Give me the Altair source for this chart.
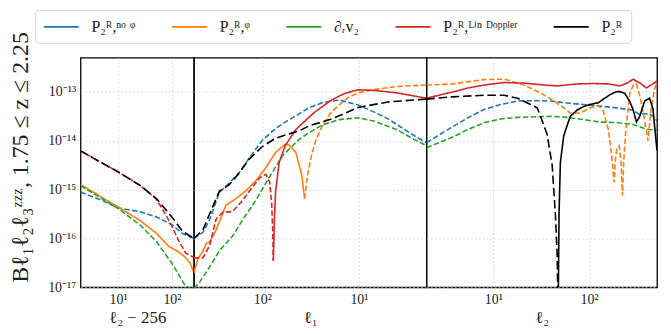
import altair as alt
import pandas as pd

SERIES = ["P₂ᴿ,ⁿᵒ ᵠ", "P₂ᴿ,ᵠ", "∂ᵣv₂", "P₂ᴿ,ᴸⁱⁿ ᴰᵒᵖᵖˡᵉʳ", "P₂ᴿ"]
COLORS = ["#1f77b4", "#ff7f0e", "#2ca02c", "#d62728", "#000000"]
WIDTHS = [1.6, 1.6, 1.6, 1.6, 2.8]

Y_TICKS = [1e-17, 1e-16, 1e-15, 1e-14, 1e-13]
X_TICKS = [10, 100]

# ---------------- panel 1 : x = l2 - 256 ----------------
p1_blue_x = [2, 5, 10, 26, 52, 104, 157, 256]
p1_blue_y = [8.9e-16, 6.0e-16, 4.2e-16, 3.5e-16, 2.75e-16, 1.86e-16, 1.26e-16, 1.0e-16]
p1_orange_x = [2, 10, 26, 52, 88, 130, 170, 215, 256]
p1_orange_y = [1.26e-15, 4.4e-16, 2.3e-16, 1.26e-16, 6.8e-17, 5.4e-17, 4.3e-17, 3.2e-17, 2.0e-17]
p1_green_x = [2, 10, 26, 52, 104, 170, 256]
p1_green_y = [1.2e-15, 4.1e-16, 1.86e-16, 8.5e-17, 2.9e-17, 1.15e-17, 8e-18]
p1_red_x = [2, 10, 26, 52, 91, 137, 181, 256]
p1_red_y = [6.2e-15, 2.3e-15, 1.2e-15, 6.3e-16, 2.2e-16, 8.5e-17, 5.0e-17, 4.1e-17]
p1_black_x = [2, 4, 10, 26, 52, 104, 157, 256]
p1_black_y = [6.2e-15, 4.0e-15, 2.3e-15, 1.2e-15, 6.5e-16, 2.6e-16, 1.4e-16, 1.0e-16]

# ---------------- panel 2 : x = l1 (reversed) ----------------
p2_blue_x = [512, 413, 352, 278, 220, 173, 137, 100, 73, 53, 42, 33, 24, 16, 10.2, 6.85, 5, 4, 2.66, 2]
p2_blue_y = [1.0e-16, 1.32e-16, 2.4e-16, 8.9e-16, 1.35e-15, 2.24e-15, 4.4e-15, 1.02e-14, 1.78e-14, 2.7e-14,
             3.5e-14, 4.7e-14, 6.0e-14, 6.8e-14, 5.4e-14, 3.8e-14, 2.8e-14, 2.1e-14, 1.26e-14, 9.1e-15]
p2_orange_pos_x = [512, 465, 413, 381, 352, 313, 278, 238, 188, 148, 117, 92, 73, 58, 53, 45, 39, 36.5]
p2_orange_pos_y = [1.95e-17, 3.9e-17, 5.4e-17, 7.9e-17, 8.5e-17, 1.26e-16, 2.2e-16, 4.8e-16, 6.5e-16, 9.5e-16,
                   1.51e-15, 2.8e-15, 5.75e-15, 8.5e-15, 8.1e-15, 5.75e-15, 1.95e-15, 6.5e-16]
p2_orange_neg_x = [36.5, 34, 31, 28, 24, 20, 16.3, 13, 10.2, 7, 4, 2]
p2_orange_neg_y = [6.5e-16, 2.0e-15, 5.0e-15, 1.0e-14, 2.0e-14, 3.55e-14, 5.25e-14, 7.6e-14, 9.5e-14, 1.12e-13,
                   1.29e-13, 1.38e-13]
p2_green_x = [512, 447, 352, 278, 203, 160, 117, 85, 62, 42, 33, 24, 16, 10.2, 6.85, 4, 2.66, 2]
p2_green_y = [9.5e-18, 1.26e-17, 2.6e-17, 5.6e-17, 1.12e-16, 2.4e-16, 6.0e-16, 1.78e-15, 4.9e-15, 1.05e-14,
              1.45e-14, 2.1e-14, 2.7e-14, 2.95e-14, 2.5e-14, 1.66e-14, 1.05e-14, 7.9e-15]
p2_red_neg_x = [512, 413, 352, 301, 258, 203, 160, 127, 105, 92, 84, 80, 78, 77]
p2_red_neg_y = [4.0e-17, 4.0e-17, 7.1e-17, 2.5e-16, 3.4e-16, 3.55e-16, 6.0e-16, 1.12e-15, 1.78e-15, 2.05e-15,
                1.41e-15, 5.0e-16, 1.26e-16, 3.5e-17]
p2_red_pos_x = [77, 75, 73, 67, 58, 45, 33, 28, 19, 14, 10.2, 6.85, 4.0, 2]
p2_red_pos_y = [3.5e-17, 2.5e-16, 8.9e-16, 3.6e-15, 7.9e-15, 1.7e-14, 3.0e-14, 4.0e-14, 6.9e-14, 9.3e-14,
                1.1e-13, 1.07e-13, 9.5e-14, 7.4e-14]
p2_black_x = [512, 413, 352, 278, 220, 173, 137, 100, 73, 53, 42, 33, 19, 10.2, 5, 2]
p2_black_y = [1.0e-16, 1.48e-16, 3.16e-16, 9.3e-16, 1.26e-15, 2.2e-15, 4.2e-15, 7.6e-15, 1.12e-14, 1.38e-14,
              1.58e-14, 2.0e-14, 2.8e-14, 4.8e-14, 6.2e-14, 7.1e-14]

# ---------------- panel 3 : x = l2 ----------------
p3_blue_x = [2, 3.64, 5.42, 8.07, 12, 17.9, 26.5, 39.5, 58.7, 87.5, 130, 194, 288, 338, 380, 428, 482, 512]
p3_blue_y = [9.1e-15, 1.86e-14, 2.95e-14, 4.4e-14, 5.5e-14, 6.5e-14, 6.6e-14, 6.5e-14, 5.9e-14, 5.5e-14,
             5.1e-14, 4.7e-14, 4.2e-14, 3.4e-14, 3.6e-14, 3.5e-14, 3.0e-14, 2.5e-14]
p3_orange_x = [2, 3.64, 8.07, 13, 20.9, 31.1, 46.3, 63.6, 80.8, 102, 125, 141, 159, 172, 182, 188, 194, 206,
               215, 223, 230, 242, 266, 290, 312, 340, 370, 400, 412, 440, 480, 512]
p3_orange_y = [1.38e-13, 1.45e-13, 1.78e-13, 1.82e-13, 1.38e-13, 9.5e-14, 5.9e-14, 3.7e-14, 3.7e-14, 4.7e-14,
               5.25e-14, 4.0e-14, 1.7e-14, 5.0e-15, 1.41e-15, 4.0e-15, 6.6e-15, 7.8e-15, 4.0e-15, 7.6e-16,
               4.0e-15, 1.7e-14, 9.5e-14, 1.38e-13, 1.45e-13, 7.9e-14, 3.55e-14, 1.41e-14, 1.0e-14, 4.0e-14,
               1.12e-13, 1.62e-13]
p3_green_x = [2, 3.64, 5.42, 8.07, 12, 17.9, 39.5, 58.7, 87.5, 130, 194, 288, 366, 420, 512]
p3_green_y = [7.2e-15, 1.15e-14, 1.7e-14, 2.35e-14, 2.8e-14, 3.0e-14, 3.16e-14, 3.0e-14, 2.7e-14, 2.4e-14,
              2.35e-14, 2.15e-14, 1.82e-14, 1.7e-14, 1.66e-14]
p3_red_x = [2, 3.64, 5.42, 8.07, 13, 20.9, 33.7, 46.3, 74.6, 111, 160, 210, 250, 288, 340, 396, 450, 512]
p3_red_y = [7.4e-14, 9.8e-14, 1.2e-13, 1.38e-13, 1.55e-13, 1.51e-13, 1.38e-13, 1.32e-13, 1.45e-13, 1.48e-13,
            1.45e-13, 1.32e-13, 1.51e-13, 1.82e-13, 1.51e-13, 1.2e-13, 1.41e-13, 1.66e-13]
p3_black_neg_x = [2, 3.64, 8.07, 13, 17.9, 24.5, 28.7, 31.1, 36.5, 41.1, 44.4, 46.3, 47.5]
p3_black_neg_y = [7.1e-14, 7.9e-14, 8.5e-14, 8.5e-14, 7.4e-14, 5.5e-14, 4.7e-14, 3.16e-14, 1.32e-14, 3.16e-15,
                  3.16e-16, 5.0e-17, 3.16e-18]
p3_black_pos_x = [47.5, 48.5, 50.1, 54.3, 58.7, 63.6, 74.6, 87.5, 102, 125, 141, 165, 186, 206, 236, 266, 288,
                  312, 338, 380, 428, 464, 494, 512]
p3_black_pos_y = [3.16e-18, 3.16e-16, 3.6e-15, 1.26e-14, 2.0e-14, 3.16e-14, 4.2e-14, 5.0e-14, 5.5e-14, 6.0e-14,
                  7.1e-14, 8.7e-14, 9.8e-14, 1.02e-13, 9.3e-14, 6.3e-14, 4.3e-14, 2.4e-14, 3.16e-14, 6.5e-14,
                  7.4e-14, 4.5e-14, 1.26e-14, 6.3e-15]

# (panel, series index, sign, xs, ys) -- drawn in this order
SEGMENTS = [
    (1, 0, "neg", p1_blue_x, p1_blue_y),
    (1, 1, "pos", p1_orange_x, p1_orange_y),
    (1, 2, "neg", p1_green_x, p1_green_y),
    (1, 3, "neg", p1_red_x, p1_red_y),
    (1, 4, "neg", p1_black_x, p1_black_y),
    (2, 0, "neg", p2_blue_x, p2_blue_y),
    (2, 1, "pos", p2_orange_pos_x, p2_orange_pos_y),
    (2, 1, "neg", p2_orange_neg_x, p2_orange_neg_y),
    (2, 2, "neg", p2_green_x, p2_green_y),
    (2, 3, "neg", p2_red_neg_x, p2_red_neg_y),
    (2, 3, "pos", p2_red_pos_x, p2_red_pos_y),
    (2, 4, "neg", p2_black_x, p2_black_y),
    (3, 0, "neg", p3_blue_x, p3_blue_y),
    (3, 1, "neg", p3_orange_x, p3_orange_y),
    (3, 2, "neg", p3_green_x, p3_green_y),
    (3, 3, "pos", p3_red_x, p3_red_y),
    (3, 4, "neg", p3_black_neg_x, p3_black_neg_y),
    (3, 4, "pos", p3_black_pos_x, p3_black_pos_y),
]

rows = []
for seg_id, (panel, si, sign, xs, ys) in enumerate(SEGMENTS):
    if sign == "pos":
        style = "solid"
    else:
        style = "dashed_bold" if si == 4 else "dashed"
    for i, (x, y) in enumerate(zip(xs, ys)):
        rows.append({"panel": panel, "series": SERIES[si], "seg": seg_id, "style": style,
                     "x": x, "y": y, "i": i})
df = pd.DataFrame(rows)

FONT = "Liberation Serif"

y_label_expr = (
    "datum.value < 3e-17 ? '10⁻¹⁷' : datum.value < 3e-16 ? '10⁻¹⁶' : "
    "datum.value < 3e-15 ? '10⁻¹⁵' : datum.value < 3e-14 ? '10⁻¹⁴' : '10⁻¹³'"
)
x_label_expr = "datum.value < 30 ? '10¹' : '10²'"

legend = alt.Legend(
    title=None, orient="none", legendX=-46, legendY=-48, direction="horizontal", columns=5,
    symbolType="M-1,0H3.4", symbolSize=256, symbolStrokeWidth=2.2,
    labelFont=FONT, labelFontSize=16, labelColor="#222", labelOffset=31, labelBaseline="middle",
    columnPadding=32, padding=8, strokeColor="#d5d5d5", fillColor="white", cornerRadius=4,
)


def panel(p, width, domain, reverse, xtitle, show_y):
    if show_y:
        y_axis = alt.Axis(values=Y_TICKS, labelExpr=y_label_expr, title="Bℓ₁ℓ₂ℓ₃ᶻᶻᶻ,  1.75 ≤ z ≤ 2.25",
                          titleFont=FONT, titleFontSize=24, titleFontWeight="normal", titleColor="#222",
                          titleAngle=270, titleAlign="left", titleBaseline="middle",
                          titleX=-60, titleY=226, labelFont=FONT, labelFontSize=14, labelColor="#222",
                          ticks=False, labelPadding=5, domain=False, grid=True)
    else:
        y_axis = alt.Axis(values=Y_TICKS, labels=False, ticks=False, domain=False, title=None, grid=True)
    x_axis = alt.Axis(values=X_TICKS, labelExpr=x_label_expr, title=xtitle, titleFont=FONT,
                      titleFontSize=17, titleFontWeight="normal", titleColor="#222", titlePadding=3,
                      labelFont=FONT, labelFontSize=14, labelColor="#222", ticks=False, labelPadding=5,
                      domain=False, grid=True)
    return (
        alt.Chart(df[df.panel == p])
        .mark_line(clip=True)
        .encode(
            x=alt.X("x:Q", scale=alt.Scale(type="log", domain=domain, reverse=reverse), axis=x_axis),
            y=alt.Y("y:Q", scale=alt.Scale(type="log", domain=[1e-17, 5e-13]), axis=y_axis),
            color=alt.Color("series:N", scale=alt.Scale(domain=SERIES, range=COLORS), legend=legend),
            strokeWidth=alt.StrokeWidth("series:N", scale=alt.Scale(domain=SERIES, range=WIDTHS), legend=None),
            strokeDash=alt.StrokeDash("style:N", scale=alt.Scale(domain=["solid", "dashed", "dashed_bold"],
                                                                 range=[[1, 0], [5.5, 2.4], [8.5, 3.8]]),
                                      legend=None),
            detail="seg:N",
            order="i:Q",
        )
        .properties(width=width, height=231)
    )


p1 = panel(1, 114, [2, 256], False, "ℓ₂ − 256", True)
p2 = panel(2, 234, [2, 512], True, "ℓ₁", False)
p3 = panel(3, 232, [2, 512], False, "ℓ₂", False)

chart = (
    alt.hconcat(p1, p2, p3, spacing=0, bounds="flush")
    .resolve_scale(x="independent", y="independent", color="shared", strokeDash="shared", strokeWidth="shared")
    .properties(padding={"left": 0, "top": 0, "right": 5, "bottom": 5})
    .configure_view(stroke="black", strokeWidth=1.3)
    .configure_axis(gridColor="#d4d4d4", gridDash=[2, 2], gridWidth=0.8)
)

chart.save("out.html", embed_options={"renderer": "svg", "actions": False})
